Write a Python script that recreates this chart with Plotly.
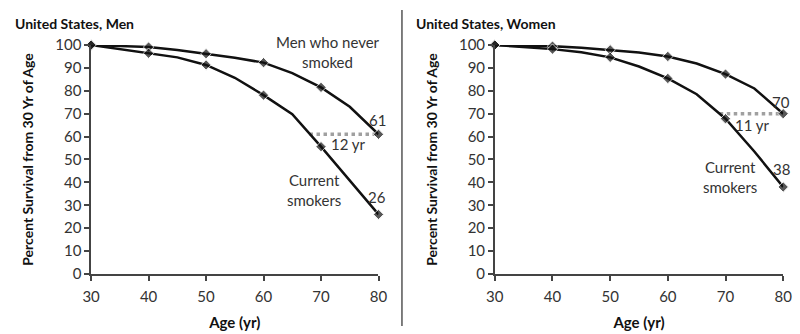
import plotly.graph_objects as go

ages = [30, 35, 40, 45, 50, 55, 60, 65, 70, 75, 80]
men_never = [100, 99.6, 99.1, 97.8, 96.2, 94.4, 92.3, 87.7, 81.5, 73.0, 61]
men_smoke = [100, 98.3, 96.4, 94.6, 91.3, 85.7, 78.1, 69.8, 55.6, 41.0, 26]
women_never = [100, 99.8, 99.5, 98.8, 97.9, 96.7, 95.0, 91.9, 87.3, 81.0, 70]
women_smoke = [100, 99.2, 98.2, 96.8, 94.6, 90.6, 85.4, 78.5, 67.8, 53.5, 38]
marker_ages = [30, 40, 50, 60, 70, 80]

men_gap = [68, 80]
men_gap_val = 61
women_gap = [69, 80]
women_gap_val = 70

x_ticks = [30, 40, 50, 60, 70, 80]
y_ticks = [0, 10, 20, 30, 40, 50, 60, 70, 80, 90, 100]

FONT = "Lato"
INK = "#111"
AX = "#444"
TXT = "#333"

msize = [8 if a in marker_ages else 0 for a in ages]

fig = go.Figure()

def add_series(xa, ya, yvals):
    fig.add_trace(go.Scatter(
        x=ages, y=yvals, xaxis=xa, yaxis=ya, mode="lines+markers",
        line=dict(color=INK, width=2.5),
        marker=dict(symbol="diamond", size=msize, color=INK),
        cliponaxis=False, showlegend=False, hoverinfo="skip"))

def add_gap(xa, ya, span, val):
    fig.add_trace(go.Scatter(
        x=span, y=[val, val], xaxis=xa, yaxis=ya, mode="lines",
        line=dict(color="#a0a0a0", width=3.5, dash="dot"),
        cliponaxis=False, showlegend=False, hoverinfo="skip"))

add_gap("x", "y", men_gap, men_gap_val)
add_series("x", "y", men_never)
add_series("x", "y", men_smoke)
add_gap("x2", "y2", women_gap, women_gap_val)
add_series("x2", "y2", women_never)
add_series("x2", "y2", women_smoke)

ydom = [1 - 279 / 334, 1 - 37 / 334]

xax = dict(range=[30, 80], tickvals=x_ticks, showline=True, linecolor=AX, linewidth=1.5,
           ticks="outside", ticklen=5, tickwidth=1.5, tickcolor=AX, showgrid=False,
           zeroline=False, tickfont=dict(family=FONT, size=15, color=TXT), ticklabelstandoff=3,
           title=dict(text="<b>Age (yr)</b>", font=dict(family=FONT, size=15, color=INK), standoff=14))
yax = dict(range=[0, 100], tickvals=y_ticks, showline=True, linecolor=AX, linewidth=1.5,
           ticks="outside", ticklen=5, tickwidth=1.5, tickcolor=AX, showgrid=False,
           zeroline=False, tickfont=dict(family=FONT, size=15, color=TXT), domain=ydom,
           title=dict(text="<b>Percent Survival from 30 Yr of Age</b>", font=dict(family=FONT, size=14, color=INK), standoff=18))

fig.update_layout(
    width=800, height=334, margin=dict(l=0, r=0, t=0, b=0),
    paper_bgcolor="white", plot_bgcolor="white",
    xaxis=dict(xax, domain=[84 / 800, 378 / 800], anchor="y"),
    yaxis=dict(yax, anchor="x"),
    xaxis2=dict(xax, domain=[497 / 800, 792 / 800], anchor="y2"),
    yaxis2=dict(yax, anchor="x2"),
)

def ann(text, x, y, xref, yref, size=15, color=TXT, bold=False, xanchor="center"):
    fig.add_annotation(text=f"<b>{text}</b>" if bold else text, x=x, y=y, xref=xref, yref=yref,
                       showarrow=False, xanchor=xanchor, yanchor="middle",
                       font=dict(family=FONT, size=size, color=color))

ann("United States, Men", 4 / 800, 1 - 14 / 334, "paper", "paper", size=14, color=INK, bold=True, xanchor="left")
ann("United States, Women", 414 / 800, 1 - 14 / 334, "paper", "paper", size=14, color=INK, bold=True, xanchor="left")

ann("Men who never<br>smoked", 71.2, 97, "x", "y")
ann("61", 79.8, 67.4, "x", "y")
ann("12 yr", 74.7, 56.6, "x", "y")
ann("Current<br>smokers", 68.8, 36.6, "x", "y")
ann("26", 79.8, 33.5, "x", "y")

ann("Women who<br>never smoked", 73.2, 100.8, "x2", "y2")
ann("70", 79.7, 75, "x2", "y2")
ann("11 yr", 74.6, 64.9, "x2", "y2")
ann("Current<br>smokers", 70.8, 42.4, "x2", "y2")
ann("38", 79.7, 45.9, "x2", "y2")

fig.add_shape(type="line", xref="paper", yref="paper", x0=402 / 800, x1=402 / 800, y0=0, y1=1,
              line=dict(color="#555", width=1.5))

fig.write_html("out.html")
